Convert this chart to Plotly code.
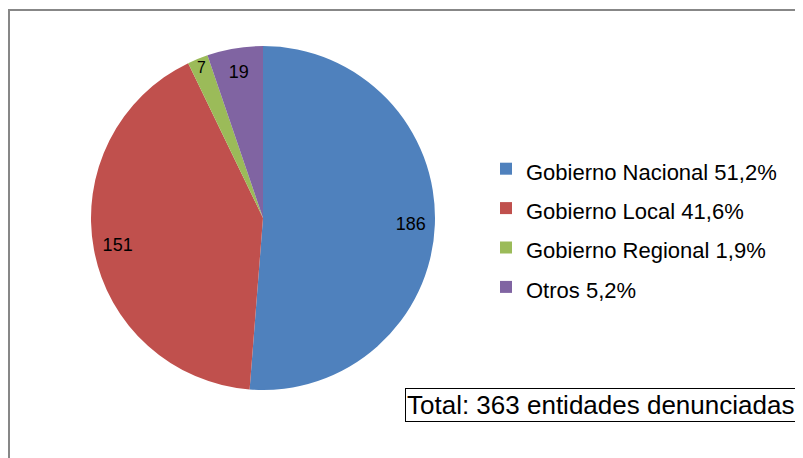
import plotly.graph_objects as go

# Entidades denunciadas por nivel de gobierno
categorias = ["Gobierno Nacional", "Gobierno Local", "Gobierno Regional", "Otros"]
porcentajes = ["51,2%", "41,6%", "1,9%", "5,2%"]
entidades = [186, 151, 7, 19]
colores = ["#4F81BD", "#C0504D", "#9BBB59", "#8064A2"]
total_texto = "Total: 363 entidades denunciadas"

W, H = 803, 458
# la página añade 8px de margen, las posiciones ya lo descuentan
cx, cy, r = 255, 210, 172
FUENTE = "Liberation Sans, Arial"

etiquetas = [
    "<span style='font-size:22px'>%s %s</span>" % (c, p)
    for c, p in zip(categorias, porcentajes)
]
dominio = dict(
    x=[(cx - r) / W, (cx + r) / W],
    y=[(H - cy - r) / H, (H - cy + r) / H],
)

fig = go.Figure()
fig.add_trace(go.Pie(
    labels=etiquetas,
    values=entidades,
    sort=False,
    direction="clockwise",
    rotation=0,
    marker=dict(colors=colores, line=dict(width=0)),
    textinfo="none",
    domain=dominio,
    hoverinfo="label+value",
))
# segundo anillo transparente solo para colocar los valores cerca del borde
fig.add_trace(go.Pie(
    labels=etiquetas,
    values=entidades,
    sort=False,
    direction="clockwise",
    rotation=0,
    hole=0.72,
    marker=dict(colors=["rgba(0,0,0,0)"] * 4, line=dict(width=0)),
    textinfo="value",
    textposition="inside",
    insidetextorientation="horizontal",
    textfont=dict(family=FUENTE, size=18, color="black"),
    domain=dominio,
    showlegend=False,
    hoverinfo="skip",
))

# recuadro exterior
fig.add_shape(
    type="rect", xref="paper", yref="paper",
    x0=1 / W, x1=1.02, y0=-0.02, y1=1 - 2 / H,
    line=dict(color="#878787", width=2), fillcolor="rgba(0,0,0,0)",
)

fig.add_annotation(
    text=total_texto, xref="paper", yref="paper",
    x=592 / W, y=1 - 397 / H, xanchor="center", yanchor="middle",
    showarrow=False,
    font=dict(family=FUENTE, size=26, color="black"),
    bordercolor="black", borderwidth=1, borderpad=1, bgcolor="white",
)

fig.update_layout(
    width=W, height=H,
    margin=dict(l=0, r=0, t=0, b=0),
    paper_bgcolor="white",
    font=dict(family=FUENTE, color="black"),
    legend=dict(
        x=478 / W, y=1 - 136 / H, xanchor="left", yanchor="top",
        font=dict(size=28), bgcolor="rgba(0,0,0,0)",
    ),
)

fig.write_html("out.html")
